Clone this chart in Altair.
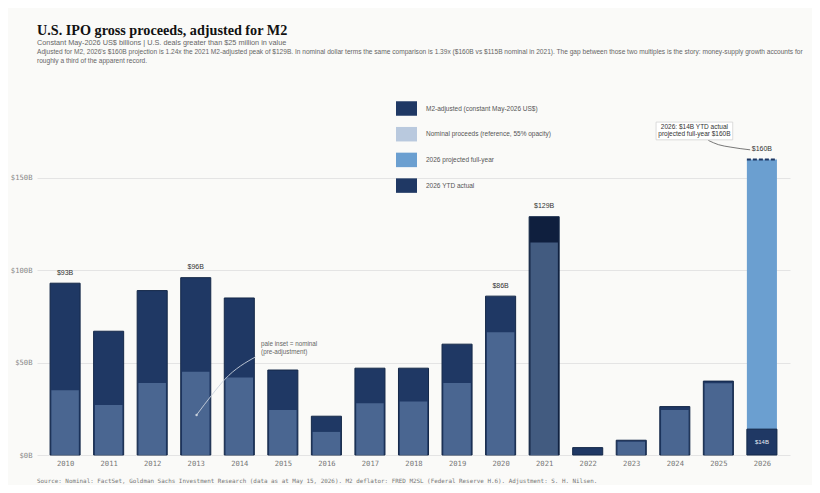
import altair as alt
import pandas as pd

# ---------------- data ----------------
years = list(range(2010, 2026))
m2_adjusted = [93, 67, 89, 96, 85, 46, 21, 47, 47, 60, 86, 129, 4, 8, 26.2, 40]
nominal = [35, 27, 39, 45, 42, 24.4, 12.5, 28, 29, 39, 66.5, 115, 0, 7.2, 24.4, 38.8]
year_2026 = 2026
projected_2026 = 160
ytd_2026 = 14
label_years = [2010, 2013, 2020, 2021, 2026]
peak_year = 2021

legend_labels = [
    "M2-adjusted (constant May-2026 US$)",
    "Nominal proceeds (reference, 55% opacity)",
    "2026 projected full-year",
    "2026 YTD actual",
]
y_ticks = [0, 50, 100, 150]

# annotation positions (in data units: year, $B)
note_nominal_xy = (2014.5, 60.0)
note_nominal_lines = ["pale inset = nominal", "(pre-adjustment)"]
arrow_nominal_x = [2013.02, 2013.37, 2013.67, 2014.38]
arrow_nominal_y = [21.7, 32.5, 41.0, 53.2]
box_2026 = (2023.57, 2025.33, 170.6, 180.2)
box_2026_lines = ["2026: $14B YTD actual", "projected full-year $160B"]
box_2026_text_x = 2024.45
box_2026_text_y = [177.6, 173.7]
conn_x = [2024.77, 2025.0, 2025.27, 2025.73]
conn_y = [170.3, 168.0, 166.7, 165.2]

title = "U.S. IPO gross proceeds, adjusted for M2"
subtitle = "Constant May-2026 US$ billions  |  U.S. deals greater than $25 million in value"
desc_lines = [
    "Adjusted for M2, 2026's $160B projection is 1.24x the 2021 M2-adjusted peak of $129B. In nominal dollar terms the same comparison is 1.39x ($160B vs $115B nominal in 2021). The gap between those two multiples is the story: money-supply growth accounts for",
    "roughly a third of the apparent record.",
]
source = "Source: Nominal: FactSet, Goldman Sachs Investment Research (data as at May 15, 2026). M2 deflator: FRED M2SL (Federal Reserve H.6). Adjustment: S. H. Nilsen."

# ---------------- styles ----------------
NAVY = "#1f3864"
PEAK = "#0f1f3e"
EDGE = "#142848"
PROJ = "#6b9fd0"
PALE = "#b9c9de"
INSET = "#6d8db6"
HALF = 0.345
INSET_HALF = 0.315
W, H = 753, 351
MONO = "DejaVu Sans Mono"
SANS = "Liberation Sans"

# ---------------- tables ----------------
bars = pd.DataFrame({"year": years, "value": m2_adjusted, "series": legend_labels[0]})
bars = pd.concat([
    bars,
    pd.DataFrame({"year": [year_2026, year_2026],
                  "value": [projected_2026, ytd_2026],
                  "series": [legend_labels[2], legend_labels[3]]}),
], ignore_index=True)

insets = pd.DataFrame({"year": years, "value": nominal})
insets = insets[insets["value"] > 0]

labels = bars[(bars["year"].isin(label_years)) & (bars["series"] != legend_labels[3])].copy()
labels["text"] = "$" + labels["value"].round(0).astype(int).astype(str) + "B"

xscale = alt.Scale(domain=[2010 - 0.645, 2026 + 0.645], nice=False, zero=False)
yscale = alt.Scale(domain=[0, 190], nice=False)

x_axis = alt.Axis(values=list(range(2010, 2027)), format="d", ticks=False, domain=False,
                  grid=False, labelFont=MONO, labelFontSize=7.2, labelColor="#777",
                  labelPadding=4, title=None)
y_axis = alt.Axis(values=y_ticks, labelExpr="'$' + datum.value + 'B'", ticks=False,
                  domain=False, grid=True, gridColor="#e4e4e4", gridWidth=1,
                  labelFont=MONO, labelFontSize=7.2, labelColor="#888",
                  labelPadding=5, title=None)


def X(field):
    return alt.X(field, scale=xscale, title=None)


def Y(field):
    return alt.Y(field, scale=yscale, title=None)


base = alt.Chart(bars).transform_calculate(
    x0=f"datum.year - {HALF}", x1=f"datum.year + {HALF}"
)

outer = base.mark_bar(stroke=EDGE).encode(
    x=alt.X("x0:Q", scale=xscale, axis=x_axis),
    x2="x1:Q",
    y=alt.Y("value:Q", scale=yscale, axis=y_axis),
    y2=alt.datum(0),
    color=alt.condition(
        alt.datum.year == peak_year,
        alt.value(PEAK),
        alt.Color("series:N",
                  scale=alt.Scale(domain=legend_labels, range=[NAVY, PALE, PROJ, NAVY]),
                  legend=alt.Legend(title=None, orient="none", legendX=359, legendY=-6,
                                    direction="vertical", symbolType="M-1,-0.69H1V0.69H-1Z",
                                    symbolSize=441, symbolStrokeWidth=0, symbolOpacity=1,
                                    labelFont=SANS, labelFontSize=6.5, labelColor="#555",
                                    labelOffset=9, rowPadding=7.7, padding=0)),
    ),
    strokeWidth=alt.condition(alt.datum.series == legend_labels[2], alt.value(0), alt.value(1)),
)

inset = alt.Chart(insets).transform_calculate(
    x0=f"datum.year - {INSET_HALF}", x1=f"datum.year + {INSET_HALF}"
).mark_bar(color=INSET, opacity=0.55).encode(
    x=X("x0:Q"), x2="x1:Q", y=Y("value:Q"), y2=alt.datum(0),
)

top_dash = base.transform_filter(alt.datum.series == legend_labels[2]).mark_rule(
    color=NAVY, strokeWidth=2, strokeDash=[4, 2]
).encode(x=X("x0:Q"), x2="x1:Q", y=Y("value:Q"))

value_labels = alt.Chart(labels).mark_text(
    font=SANS, fontSize=7, color="#333", baseline="middle", dy=-10.5
).encode(x=X("year:Q"), y=Y("value:Q"), text="text:N")

ytd_label = base.transform_filter(alt.datum.series == legend_labels[3]).transform_calculate(
    mid="datum.value / 2", txt="'$' + datum.value + 'B'"
).mark_text(font=SANS, fontSize=6, color="#e6ebf2", baseline="middle").encode(
    x=X("year:Q"), y=Y("mid:Q"), text="txt:N")

# nominal annotation
note_df = pd.DataFrame({"x": [note_nominal_xy[0]] * 2,
                        "y": [note_nominal_xy[1], note_nominal_xy[1] - 4.1],
                        "t": note_nominal_lines})
note = alt.Chart(note_df).mark_text(font=SANS, fontSize=6.3, color="#666", align="left",
                                    baseline="middle").encode(x=X("x:Q"), y=Y("y:Q"), text="t:N")

arrow_df = pd.DataFrame({"x": arrow_nominal_x, "y": arrow_nominal_y})
arrow = alt.Chart(arrow_df).mark_line(color="#c9d1dc", strokeWidth=0.9,
                                      interpolate="monotone").encode(x=X("x:Q"), y=Y("y:Q"))
arrow_tip = alt.Chart(arrow_df.iloc[[0]]).mark_point(filled=True, size=6, color="#c9d1dc",
                                                     opacity=1).encode(x=X("x:Q"), y=Y("y:Q"))

# 2026 box annotation
box_df = pd.DataFrame({"x": [box_2026[0]], "x2": [box_2026[1]], "y": [box_2026[2]], "y2": [box_2026[3]]})
box = alt.Chart(box_df).mark_rect(fill="#ffffff", stroke="#cfcfcf", strokeWidth=0.7).encode(
    x=X("x:Q"), x2="x2:Q", y=Y("y:Q"), y2="y2:Q")
box_txt_df = pd.DataFrame({"x": [box_2026_text_x] * 2, "y": box_2026_text_y, "t": box_2026_lines})
box_txt = alt.Chart(box_txt_df).mark_text(font=SANS, fontSize=6.5, color="#333",
                                          baseline="middle").encode(x=X("x:Q"), y=Y("y:Q"), text="t:N")
conn_df = pd.DataFrame({"x": conn_x, "y": conn_y})
conn = alt.Chart(conn_df).mark_line(color="#555", strokeWidth=0.8,
                                    interpolate="monotone").encode(x=X("x:Q"), y=Y("y:Q"))

# header description & source (text annotations)
desc1 = alt.Chart(pd.DataFrame({"t": [desc_lines[0]]})).mark_text(
    font=SANS, fontSize=6.58, color="#666", align="left", baseline="alphabetic"
).encode(x=alt.value(0), y=alt.value(-50.5), text="t:N")
desc2 = alt.Chart(pd.DataFrame({"t": [desc_lines[1]]})).mark_text(
    font=SANS, fontSize=6.58, color="#666", align="left", baseline="alphabetic"
).encode(x=alt.value(0), y=alt.value(-41), text="t:N")

src = alt.Chart(pd.DataFrame({"t": [source]})).mark_text(
    font=MONO, fontSize=5.9, color="#777", align="left", baseline="middle"
).encode(x=alt.value(0), y=alt.value(H + 26), text="t:N")

chart = alt.layer(
    outer, inset, top_dash, value_labels, ytd_label, arrow, arrow_tip, note, conn, box, box_txt,
    desc1, desc2, src
).properties(
    width=W, height=H,
    title=alt.TitleParams(text=title, subtitle=subtitle, anchor="start", frame="group",
                          font="Liberation Serif", fontSize=14.2, fontWeight="bold", color="#111",
                          subtitleFont=SANS, subtitleFontSize=7.3, subtitleColor="#666",
                          subtitlePadding=0.5, offset=2.5),
    autosize=alt.AutoSizeParams(type="none"),
    padding={"left": 29, "top": 96, "right": 22, "bottom": 30},
    background="#fafaf8",
).configure_view(strokeWidth=0)

chart.save("out.html", embed_options={"renderer": "svg", "actions": False})
